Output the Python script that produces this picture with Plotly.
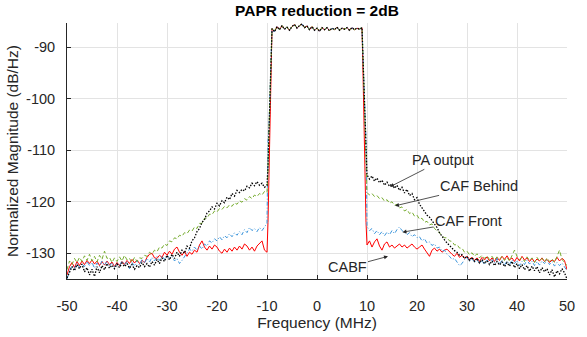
import numpy as np
import plotly.graph_objects as go

# ---------------- data ----------------
freq_left = list(np.round(np.arange(-50, -9.99, 0.5), 2))        # -50 .. -10
freq_edge_left = [-9.8, -9.6, -9.4, -9.2]
freq_in = list(np.round(np.arange(-9.0, 9.01, 0.5), 2))          # -9 .. 9
freq_edge_right = [9.2, 9.4, 9.6, 9.8]
freq_right = list(np.round(np.arange(10, 50.01, 0.5), 2))        # 10 .. 50

inband = [-86.4, -87.0, -86.0, -86.6, -85.8, -86.5, -86.1, -86.7, -86.0, -85.6,
          -86.3, -85.8, -85.5, -86.2, -85.9, -86.6, -86.0, -86.7, -86.3, -86.9,
          -86.2, -86.6, -86.2, -86.8, -86.3, -86.6, -86.1, -86.7, -86.3, -86.5,
          -86.2, -86.7, -86.2, -86.6, -86.3, -86.5, -86.2]

pa_left = [-134.8, -133.5, -132.6, -133.4, -132.2, -133.0, -132.1, -133.6, -132.8, -134.2,
           -133.1, -134.5, -132.6, -133.8, -132.4, -133.2, -132.0, -132.9, -132.3, -133.0,
           -132.1, -132.8, -131.9, -132.6, -132.0, -132.9, -132.2, -133.1, -132.4, -132.8,
           -131.8, -132.6, -132.0, -132.7, -131.6, -132.3, -131.2, -132.0, -130.9, -131.6,
           -130.4, -131.3, -130.2, -131.0, -129.8, -130.6, -129.4, -130.0, -128.6, -129.0,
           -127.6, -127.0, -125.8, -125.2, -124.0, -123.5, -122.2, -121.8, -121.0, -121.4,
           -120.3, -120.8, -119.8, -120.2, -119.1, -119.6, -118.4, -118.9, -117.8, -118.2,
           -117.6, -117.9, -117.0, -117.3, -116.4, -116.9, -116.1, -116.8, -116.4, -117.2,
           -116.8]
pa_edge_left = [-113.0, -106.0, -99.0, -92.0]
pa_edge_right = [-92.0, -99.0, -106.0, -112.0]
pa_right = [-114.8, -115.6, -115.0, -116.0, -115.4, -116.3, -115.8, -116.8, -116.2, -117.0,
            -116.5, -117.4, -116.8, -117.8, -117.2, -118.3, -117.6, -118.8, -118.4, -119.6,
            -119.2, -120.5, -121.2, -122.0, -122.6, -123.0, -123.6, -124.3, -125.0, -126.0,
            -126.8, -127.4, -128.0, -128.6, -129.0, -129.5, -129.8, -130.4, -130.3, -131.0,
            -130.6, -131.4, -130.8, -131.6, -131.0, -131.9, -131.2, -132.0, -131.4, -132.2,
            -131.5, -132.4, -131.6, -132.3, -131.7, -132.6, -131.8, -132.5, -131.6, -132.8,
            -132.0, -133.0, -132.2, -133.2, -132.4, -133.5, -132.5, -133.4, -132.6, -133.8,
            -132.8, -133.6, -133.0, -134.2, -133.2, -134.6, -133.4, -134.0, -133.0, -133.8,
            -135.0]

behind_left = [-133.2, -131.5, -132.2, -131.0, -131.8, -130.8, -131.6, -130.5, -131.4, -130.2,
               -131.5, -130.6, -131.7, -130.4, -131.2, -129.6, -131.0, -130.8, -131.8, -130.9,
               -131.6, -130.7, -131.5, -130.4, -131.3, -131.0, -131.8, -130.8, -131.6, -130.9,
               -131.0, -130.4, -130.6, -129.8, -130.2, -129.4, -129.7, -128.8, -129.0, -128.2,
               -128.5, -127.6, -127.8, -127.0, -127.2, -126.5, -126.7, -126.0, -126.2, -125.5,
               -125.7, -124.9, -125.2, -124.2, -124.2, -123.2, -123.2, -122.4, -122.5, -121.8,
               -122.0, -121.3, -121.5, -120.9, -121.2, -120.6, -120.9, -120.2, -120.5, -119.8,
               -120.1, -119.4, -119.7, -119.0, -119.4, -118.7, -119.0, -118.4, -118.7, -118.0,
               -118.2]
behind_edge_left = [-114.0, -106.0, -99.0, -92.0]
behind_edge_right = [-92.0, -99.0, -107.0, -115.0]
behind_right = [-118.2, -118.7, -118.4, -119.0, -118.8, -119.4, -119.2, -119.9, -119.6, -120.3,
                -120.0, -120.7, -120.5, -121.2, -121.0, -121.8, -121.5, -122.3, -122.0, -122.8,
                -122.6, -123.4, -123.2, -124.0, -123.8, -124.5, -124.3, -125.2, -125.6, -126.0,
                -126.5, -127.0, -127.0, -127.6, -127.7, -128.4, -128.3, -129.0, -129.0, -129.8,
                -129.6, -130.3, -129.9, -130.6, -130.1, -130.9, -130.4, -131.0, -130.5, -131.2,
                -130.6, -131.3, -130.7, -131.2, -130.6, -131.4, -130.8, -131.5, -130.5, -129.4,
                -130.6, -131.2, -130.8, -131.6, -130.7, -131.4, -130.9, -131.8, -130.8, -131.5,
                -131.0, -131.7, -130.9, -131.6, -131.1, -131.8, -130.6, -129.4, -131.2, -131.8,
                -132.4]

front_left = [-135.0, -133.4, -132.4, -133.0, -131.9, -132.8, -132.0, -132.6, -131.6, -132.4,
              -131.8, -132.9, -131.9, -132.6, -131.5, -132.3, -131.6, -132.5, -131.8, -132.7,
              -132.0, -132.4, -131.5, -132.2, -131.6, -133.0, -131.8, -132.5, -131.4, -132.3,
              -131.2, -131.9, -131.0, -131.7, -130.8, -131.5, -130.6, -131.4, -130.5, -131.2,
              -130.4, -131.0, -130.6, -131.5, -131.0, -132.0, -131.4, -130.6, -130.0, -129.2,
              -129.6, -128.8, -129.4, -128.6, -129.2, -128.2, -128.6, -127.6, -128.0, -127.2,
              -127.6, -126.8, -127.4, -126.6, -127.0, -126.2, -126.8, -126.0, -126.5, -125.8,
              -126.4, -125.4, -126.0, -125.0, -125.6, -125.2, -125.8, -125.0, -125.6, -124.8,
              -124.2]
front_edge_left = [-108.0, -105.0, -99.0, -92.0]
front_edge_right = [-92.0, -99.0, -105.0, -108.0]
front_right = [-124.8, -125.6, -125.2, -126.2, -125.6, -126.4, -125.8, -126.6, -125.9, -126.4,
               -125.6, -126.2, -125.4, -124.9, -125.6, -126.0, -126.4, -126.0, -126.8, -126.4,
               -127.0, -126.8, -127.6, -127.2, -128.0, -127.8, -128.5, -128.2, -129.0, -128.8,
               -129.6, -129.4, -130.2, -130.6, -131.2, -131.0, -131.8, -132.4, -132.0, -131.2,
               -130.8, -131.6, -131.0, -131.8, -131.2, -132.0, -131.4, -132.2, -131.3, -132.0,
               -131.2, -131.9, -131.0, -132.1, -131.4, -132.3, -131.5, -132.2, -131.3, -132.0,
               -131.4, -132.4, -131.6, -132.2, -131.3, -132.1, -131.5, -132.4, -131.6, -132.3,
               -131.5, -132.0, -131.4, -132.2, -131.6, -132.5, -131.8, -132.4, -131.9, -132.6,
               -133.4]

cabf_left = [-134.2, -132.6, -131.8, -132.8, -131.6, -132.4, -131.5, -132.2, -131.4, -132.0,
             -131.3, -132.1, -131.5, -132.4, -131.6, -132.3, -131.5, -132.2, -131.7, -132.6,
             -131.8, -132.4, -131.6, -132.2, -131.4, -132.0, -131.2, -131.9, -131.3, -132.0,
             -131.4, -131.8, -130.8, -130.2, -130.0, -130.9, -131.0, -130.4, -130.8, -129.8,
             -130.4, -129.6, -130.2, -129.2, -128.8, -129.8, -130.4, -129.6, -130.6, -129.8,
             -130.2, -129.4, -129.8, -128.4, -127.6, -128.8, -129.4, -128.6, -129.2, -128.4,
             -128.8, -129.6, -130.0, -129.2, -129.8, -129.0, -129.6, -128.8, -129.4, -128.6,
             -129.2, -128.2, -128.6, -129.4, -128.8, -129.6, -128.6, -128.0, -127.6, -129.4,
             -129.8]
cabf_edge_left = [-124.0, -115.0, -106.0, -95.0]
cabf_edge_right = [-95.0, -106.0, -116.0, -124.0]
cabf_right = [-128.4, -127.6, -128.8, -127.8, -127.2, -128.6, -129.4, -128.2, -127.8, -128.8,
              -128.4, -129.0, -128.6, -128.2, -128.8, -128.4, -129.0, -128.6, -128.2, -128.8,
              -129.2, -128.8, -128.4, -129.2, -130.0, -130.6, -129.4, -129.0, -129.6, -129.2,
              -129.8, -129.4, -129.2, -129.8, -130.2, -130.6, -130.0, -130.8, -130.4, -131.0,
              -130.6, -131.2, -130.8, -131.4, -130.9, -131.6, -130.8, -131.3, -130.7, -131.5,
              -130.9, -131.6, -130.8, -131.4, -130.6, -131.2, -130.5, -131.3, -130.9, -131.6,
              -130.8, -131.5, -130.6, -131.3, -130.9, -131.6, -131.0, -131.7, -131.1, -131.5,
              -130.9, -131.6, -131.2, -131.8, -131.3, -131.6, -130.8, -131.5, -131.0, -131.4,
              -133.2]

x_ticks = [-50, -40, -30, -20, -10, 0, 10, 20, 30, 40, 50]
x_ticktext = ["-50", "-40", "-30", "-20", "-10", "0", "10", "20", "30", "40", "50"]
y_ticks = [-130, -120, -110, -100, -90]
y_ticktext = ["-130", "-120", "-110", "-100", "-90"]

freq = freq_left + freq_edge_left + freq_in + freq_edge_right + freq_right


def series(left, edge_l, edge_r, right):
    vals = left + edge_l + inband + edge_r + right
    assert len(vals) == len(freq), (len(left), len(right), len(vals), len(freq))
    return vals


pa = series(pa_left, pa_edge_left, pa_edge_right, pa_right)
behind = series(behind_left, behind_edge_left, behind_edge_right, behind_right)
front = series(front_left, front_edge_left, front_edge_right, front_right)
cabf = series(cabf_left, cabf_edge_left, cabf_edge_right, cabf_right)

# ---------------- figure ----------------
FONT = "Liberation Sans"
AX = "#262626"
FS_TICK = 14.5
FS_TITLE = 15.5
FS_ANN = 14.5

fig = go.Figure()
fig.add_trace(go.Scatter(x=freq, y=cabf, mode="lines", name="CABF",
                         line=dict(color="#FF0000", width=1)))
fig.add_trace(go.Scatter(x=freq, y=front, mode="lines", name="CAF Front",
                         line=dict(color="#3D96DC", width=1, dash="4px,2px,1px,2px")))
fig.add_trace(go.Scatter(x=freq, y=behind, mode="lines", name="CAF Behind",
                         line=dict(color="#77AC30", width=1, dash="4px,2.5px")))
fig.add_trace(go.Scatter(x=freq, y=pa, mode="lines", name="PA output",
                         line=dict(color="#000000", width=1.3, dash="1.5px,1.5px")))

ann = [
    ("PA output", 14.6, -117.1, 53, -27),
    ("CAF Behind", 15.6, -120.8, 84, -20),
    ("CAF Front", 17.1, -125.9, 66, -11),
    ("CABF", 14.2, -130.6, -41, 11),
]
for text, xh, yh, ax, ay in ann:
    fig.add_annotation(x=xh, y=yh, xref="x", yref="y", text=text, showarrow=True,
                       ax=ax, ay=ay, arrowhead=2, arrowsize=1, arrowwidth=0.8,
                       arrowcolor=AX, standoff=0, startstandoff=0,
                       font=dict(family=FONT, size=FS_ANN, color=AX))

fig.update_layout(
    width=587, height=337,
    margin=dict(l=58, r=12, t=23, b=49),
    paper_bgcolor="white", plot_bgcolor="white",
    showlegend=False,
    font=dict(family=FONT, size=FS_TICK, color=AX),
    title=dict(text="<b>PAPR reduction = 2dB</b>", x=0.5, xref="paper", xanchor="center",
               y=1 - 11 / 337, yref="container", yanchor="middle",
               font=dict(family=FONT, size=15.5, color="#000000")),
)
fig.update_xaxes(range=[-50, 50], tickvals=x_ticks, ticktext=x_ticktext, showgrid=True,
                 gridcolor="#E3E3E3", gridwidth=1, showline=True, linecolor=AX, linewidth=1,
                 ticks="inside", ticklen=4, tickcolor=AX, zeroline=False, ticklabelstandoff=14,
                 tickfont=dict(family=FONT, size=FS_TICK, color=AX),
                 title=dict(text="Frequency (MHz)", standoff=0,
                            font=dict(family=FONT, size=FS_TITLE, color=AX)))
fig.update_yaxes(range=[-135, -85.3], tickvals=y_ticks, ticktext=y_ticktext, showgrid=True,
                 gridcolor="#E3E3E3", gridwidth=1, showline=True, linecolor=AX, linewidth=1,
                 ticks="inside", ticklen=4, tickcolor=AX, zeroline=False, ticklabelstandoff=8,
                 tickfont=dict(family=FONT, size=FS_TICK, color=AX),
                 title=dict(text="Normalized Magnitude (dB/Hz)", standoff=3,
                            font=dict(family=FONT, size=FS_TITLE, color=AX)))

fig.write_html("out.html")
